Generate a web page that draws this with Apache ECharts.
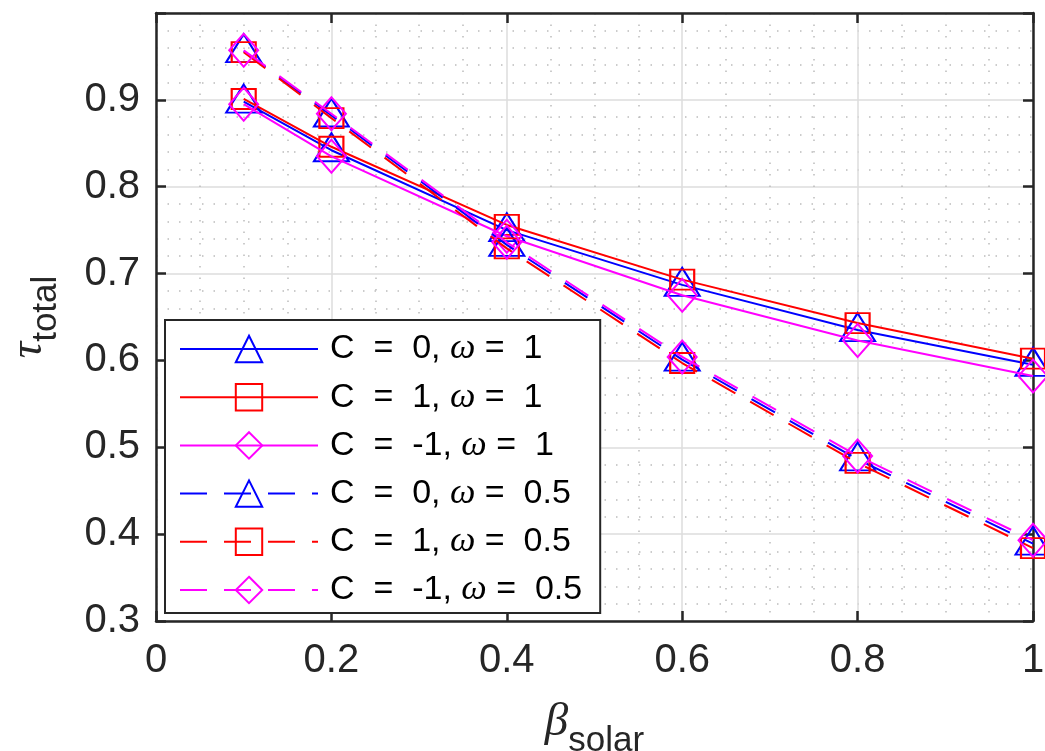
<!DOCTYPE html>
<html>
<head>
<meta charset="utf-8">
<script src="https://cdn.jsdelivr.net/npm/echarts@6/dist/echarts.min.js"></script>
<style>
html,body{margin:0;padding:0;background:#fff;}
#chart{width:1045px;height:751px;}
</style>
</head>
<body>
<div id="chart"></div>
<script>
// ---- data ----
var betaSolar = [0.1, 0.2, 0.4, 0.6, 0.8, 1.0];
var seriesNames = ['C = 0, ω = 1', 'C = 1, ω = 1', 'C = -1, ω = 1',
                   'C = 0, ω = 0.5', 'C = 1, ω = 0.5', 'C = -1, ω = 0.5'];
var tauC0w1   = [0.898, 0.842, 0.750, 0.687, 0.635, 0.595];
var tauC1w1   = [0.901, 0.846, 0.756, 0.693, 0.643, 0.602];
var tauCm1w1  = [0.895, 0.835, 0.743, 0.675, 0.623, 0.582];
var tauC0w05  = [0.956, 0.882, 0.733, 0.601, 0.486, 0.389];
var tauC1w05  = [0.955, 0.879, 0.729, 0.597, 0.482, 0.384];
var tauCm1w05 = [0.957, 0.884, 0.736, 0.604, 0.490, 0.393];
var xTicks = [0, 0.2, 0.4, 0.6, 0.8, 1];
var yTicks = [0.3, 0.4, 0.5, 0.6, 0.7, 0.8, 0.9];

var allValues = [tauC0w1, tauC1w1, tauCm1w1, tauC0w05, tauC1w05, tauCm1w05];
var colors = ['#0000ff', '#ff0000', '#ff00ff', '#0000ff', '#ff0000', '#ff00ff'];
var symbols = ['triangle', 'rect', 'diamond', 'triangle', 'rect', 'diamond'];
var symSizes = {triangle: [35, 28], rect: [24, 20], diamond: [29, 33]};
var symOffsets = {triangle: [0, -3], rect: [0, 0], diamond: [0, 0]};

var axisColor = '#262626';
var font = 'Liberation Sans, Arial, Helvetica, sans-serif';

var series = allValues.map(function (vals, i) {
  var dashed = i >= 3;
  return {
    name: seriesNames[i],
    type: 'line',
    data: betaSolar.map(function (x, k) { return [x, vals[k]]; }),
    xAxisIndex: 0,
    yAxisIndex: 0,
    color: colors[i],
    symbol: symbols[i],
    symbolSize: symSizes[symbols[i]],
    symbolOffset: symOffsets[symbols[i]],
    showAllSymbol: true,
    lineStyle: { color: colors[i], width: 2, type: dashed ? [27, 17] : 'solid' },
    itemStyle: { color: 'rgba(255,255,255,0)', borderColor: colors[i], borderWidth: 2 },
    emphasis: { disabled: true },
    animation: false,
    z: 3 + i
  };
});

function legendLabel(name) {
  // wide TeX-like spacing
  var m = name.match(/^C = (-?\d+), ω = ([\d.]+)$/);
  return 'C  =  ' + m[1] + ', {w|ω} =  ' + m[2];
}

var chart = echarts.init(document.getElementById('chart'), null, { renderer: 'canvas' });
chart.setOption({
  animation: false,
  backgroundColor: '#ffffff',
  grid: { left: 156, right: 12, top: 13, bottom: 130, containLabel: false, outerBoundsMode: 'none' },
  xAxis: [{
    type: 'value', min: 0, max: 1, interval: 0.2,
    position: 'bottom',
    axisLine: { show: true, onZero: false, lineStyle: { color: axisColor, width: 2.5 } },
    axisTick: { show: true, inside: true, length: 10, lineStyle: { color: axisColor, width: 2.5 } },
    axisLabel: { color: '#262626', fontSize: 40, fontFamily: font, margin: 20,
      formatter: function (v) { return String(Math.round(v * 10) / 10); } },
    splitLine: { show: true, lineStyle: { color: '#dcdcdc', width: 1.5 } },
    minorTick: { show: true, splitNumber: 4, length: 0 },
    minorSplitLine: { show: true, lineStyle: { color: '#bcbcbc', width: 1.5, type: [1.5, 10] } },
    name: '{b|β}{s|solar}',
    nameLocation: 'middle',
    nameGap: 78,
    nameMoveOverlap: false,
    nameTextStyle: {
      rich: {
        b: { fontSize: 47, fontStyle: 'italic', fontFamily: 'Liberation Serif, serif', color: '#262626', verticalAlign: 'top', lineHeight: 48 },
        s: { fontSize: 35, fontFamily: font, color: '#262626', verticalAlign: 'bottom', lineHeight: 60 }
      }
    }
  }, {
    type: 'value', min: 0, max: 1, interval: 0.2,
    position: 'top',
    axisLine: { show: true, onZero: false, lineStyle: { color: axisColor, width: 2.5 } },
    axisTick: { show: true, inside: true, length: 10, lineStyle: { color: axisColor, width: 2.5 } },
    axisLabel: { show: false },
    splitLine: { show: false }
  }],
  yAxis: [{
    type: 'value', min: 0.3, max: 1.0, interval: 0.1,
    position: 'left',
    axisLine: { show: true, onZero: false, lineStyle: { color: axisColor, width: 2.5 } },
    axisTick: { show: true, inside: true, length: 10, lineStyle: { color: axisColor, width: 2.5 } },
    axisLabel: { color: '#262626', fontSize: 40, fontFamily: font, margin: 16,
      formatter: function (v) {
        var r = Math.round(v * 10) / 10;
        return yTicks.indexOf(r) >= 0 ? r.toFixed(1) : '';
      } },
    splitLine: { show: true, lineStyle: { color: '#dcdcdc', width: 1.5 } },
    minorTick: { show: true, splitNumber: 5, length: 0 },
    minorSplitLine: { show: true, lineStyle: { color: '#bcbcbc', width: 1.5, type: [1.5, 10] } },
    name: '{t|τ}{s|total}',
    nameLocation: 'middle',
    nameRotate: 90,
    nameGap: 92,
    nameMoveOverlap: false,
    nameTextStyle: {
      rich: {
        t: { fontSize: 46, fontStyle: 'italic', fontFamily: 'Liberation Serif, serif', color: '#262626', verticalAlign: 'top', lineHeight: 46 },
        s: { fontSize: 35, fontFamily: font, color: '#262626', verticalAlign: 'bottom', lineHeight: 58 }
      }
    }
  }, {
    type: 'value', min: 0.3, max: 1.0, interval: 0.1,
    position: 'right',
    axisLine: { show: true, onZero: false, lineStyle: { color: axisColor, width: 2.5 } },
    axisTick: { show: true, inside: true, length: 10, lineStyle: { color: axisColor, width: 2.5 } },
    axisLabel: { show: false },
    splitLine: { show: false }
  }],
  legend: {
    orient: 'vertical',
    left: 165,
    top: 320,
    padding: [11, 18, 5, 14],
    itemWidth: 138,
    itemHeight: 33,
    itemGap: 12.2,
    backgroundColor: '#ffffff',
    borderColor: axisColor,
    borderWidth: 2,
    data: seriesNames,
    selectedMode: false,
    formatter: legendLabel,
    textStyle: {
      fontSize: 34,
      lineHeight: 33,
      fontFamily: font,
      color: '#000000',
      padding: [0, 0, 0, 7],
      rich: {
        w: { fontSize: 36, lineHeight: 33, fontStyle: 'italic', fontFamily: 'Liberation Serif, serif', color: '#000000' }
      }
    }
  },
  series: series
});
</script>
</body>
</html>
